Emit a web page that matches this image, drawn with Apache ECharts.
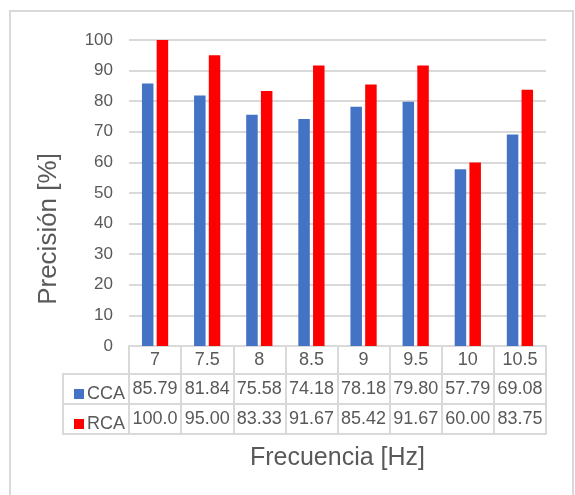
<!DOCTYPE html>
<html><head><meta charset="utf-8">
<script src="https://cdn.jsdelivr.net/npm/echarts@6/dist/echarts.min.js"></script>
<style>html,body{margin:0;padding:0;background:#fff}#c{width:575px;height:495px}</style>
</head><body><div id="c"></div>
<script>
// ---- data ----
const categories = ['7', '7.5', '8', '8.5', '9', '9.5', '10', '10.5'];
const seriesNames = ['CCA', 'RCA'];
const ccaValues = [85.79, 81.84, 75.58, 74.18, 78.18, 79.80, 57.79, 69.08];
const rcaValues = [100.00, 95.00, 83.33, 91.67, 85.42, 91.67, 60.00, 83.75];
const yMin = 0, yMax = 100, yStep = 10;
const xTitle = 'Frecuencia [Hz]';
const yTitle = 'Precisión [%]';

// ---- style / layout ----
const FONT = '"Liberation Sans", Arial, sans-serif';
const TXT = '#595959';
const LINE = '#d9d9d9';
const colors = ['#4472C4', '#FF0000'];
const G = { left: 129, right: 29, top: 40, bottom: 149 };
const W = 575, H = 495;
const plotBottom = H - G.bottom;      // 346
const row0 = 28, rowH = 30;

const fmt = v => v.toFixed(2).slice(0, 5);   // Excel cell clipping: 100.00 -> 100.0

function tableAxis(offset, tickLen, labelFn, margin, extra) {
  return Object.assign({
    type: 'category', data: categories, gridIndex: 0, position: 'bottom', offset: offset,
    axisLine: { show: true, lineStyle: { color: LINE, width: 2 } },
    axisTick: { show: true, length: tickLen, interval: 0, lineStyle: { color: LINE, width: 2 } },
    axisLabel: {
      show: !!labelFn, formatter: labelFn || undefined, interval: 0, margin: margin,
      verticalAlign: 'middle', color: TXT, fontSize: 18, fontFamily: FONT
    },
    splitLine: { show: false }
  }, extra || {});
}

const chart = echarts.init(document.getElementById('c'), null, { renderer: 'canvas' });
const colLeft = 63;
chart.setOption({
  animation: false,
  color: colors,
  textStyle: { fontFamily: FONT },
  grid: { left: G.left, right: G.right, top: G.top, bottom: G.bottom, containLabel: false },
  legend: {
    orient: 'vertical', left: 69, top: plotBottom + row0 + 5,
    itemWidth: 10, itemHeight: 10, itemGap: 10, icon: 'rect',
    data: seriesNames,
    textStyle: { fontSize: 18, color: TXT, fontFamily: FONT, lineHeight: 20, height: 20, padding: [0, 0, 0, -2] }
  },
  xAxis: [
    tableAxis(0, row0, v => v, 14),
    tableAxis(row0, rowH, (v, i) => fmt(ccaValues[i]), 15),
    tableAxis(row0 + rowH, rowH, (v, i) => fmt(rcaValues[i]), 15),
    tableAxis(row0 + 2 * rowH, 0, null, 0, {
      axisTick: { show: false },
      name: xTitle, nameLocation: 'middle', nameGap: 12,
      nameTextStyle: { fontSize: 25, color: TXT, fontFamily: FONT, verticalAlign: 'top' }
    })
  ],
  yAxis: {
    type: 'value', min: yMin, max: yMax, interval: yStep,
    axisLine: { show: false }, axisTick: { show: false },
    axisLabel: { color: TXT, fontSize: 17, margin: 16, fontFamily: FONT },
    splitLine: { lineStyle: { color: LINE, width: 2 } },
    name: yTitle, nameLocation: 'middle', nameGap: 67,
    nameTextStyle: { fontSize: 26, color: TXT, fontFamily: FONT, padding: [0, 72, 0, 0] }
  },
  series: [
    { name: seriesNames[0], type: 'bar', data: ccaValues, xAxisIndex: 0, barWidth: 11.5, barGap: '28%' },
    { name: seriesNames[1], type: 'bar', data: rcaValues, xAxisIndex: 0, barWidth: 11.5, barGap: '28%' }
  ],
  graphic: [
    { type: 'rect', shape: { x: 10, y: 11, width: 563, height: 500 }, style: { fill: 'none', stroke: LINE, lineWidth: 2 }, silent: true, z: -10 },
    { type: 'rect', shape: { x: colLeft, y: plotBottom + row0, width: G.left - colLeft, height: 2 * rowH }, style: { fill: 'none', stroke: LINE, lineWidth: 2 }, silent: true },
    { type: 'line', shape: { x1: colLeft, y1: plotBottom + row0 + rowH, x2: G.left, y2: plotBottom + row0 + rowH }, style: { stroke: LINE, lineWidth: 2 }, silent: true }
  ]
});
</script>
</body></html>
